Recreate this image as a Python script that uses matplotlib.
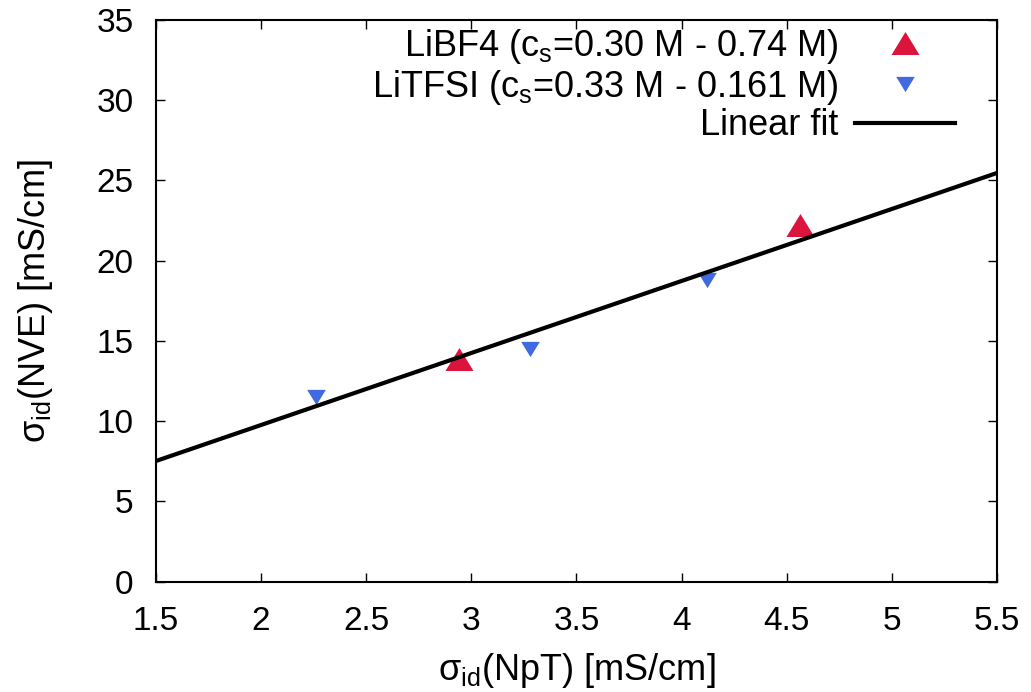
import numpy as np
import matplotlib
matplotlib.use("Agg")
import matplotlib.pyplot as plt

# conductivity data (mS/cm), NpT vs NVE
libf4_npt = [2.94, 4.56]
libf4_nve = [13.9, 22.2]
litfsi_npt = [2.26, 3.28, 4.12]
litfsi_nve = [11.5, 14.5, 18.8]

# linear fit parameters
fit_slope = 4.49
fit_icept = 0.78

xticks = [1.5, 2, 2.5, 3, 3.5, 4, 4.5, 5, 5.5]
yticks = [0, 5, 10, 15, 20, 25, 30, 35]

plt.rcParams["font.family"] = ["Liberation Sans", "DejaVu Sans"]
plt.rcParams["mathtext.fontset"] = "custom"
plt.rcParams["mathtext.rm"] = "Liberation Sans"
plt.rcParams["mathtext.it"] = "Liberation Sans"
plt.rcParams["font.size"] = 26

# gnuplot style flat triangles
up_tri = [(-1, -0.82), (1, -0.82), (0, 0.82), (-1, -0.82)]
dn_tri = [(-1, 0.82), (1, 0.82), (0, -0.82), (-1, 0.82)]

fig = plt.figure(figsize=(10.31, 6.92), dpi=100)
ax = fig.add_axes([0.151, 0.1594, 0.8163, 0.8117])

ax.plot(libf4_npt, libf4_nve, ls="none", marker=up_tri, ms=20.2, mew=0,
        color="#dc143c", zorder=2,
        label=r"LiBF4 (c$_{\rm s}$=0.30 M - 0.74 M)")
ax.plot(litfsi_npt, litfsi_nve, ls="none", marker=dn_tri, ms=13.4, mew=0,
        color="#4169e1", zorder=2,
        label=r"LiTFSI (c$_{\rm s}$=0.33 M - 0.161 M)")
xs = np.array([xticks[0], xticks[-1]])
ax.plot(xs, fit_slope*xs + fit_icept, "k-", lw=3, zorder=3, label="Linear fit")

ax.set_xlim(xticks[0], xticks[-1])
ax.set_ylim(yticks[0], yticks[-1])
ax.set_xticks(xticks)
ax.set_xticklabels([f"{t:g}" for t in xticks])
ax.set_yticks(yticks)
ax.tick_params(direction="in", length=6.7, width=1, top=True, right=True, labelsize=24)
ax.tick_params(axis="x", pad=17.5)
ax.tick_params(axis="y", pad=16)
for s in ax.spines.values():
    s.set_linewidth(1.5)

ax.set_xlabel(r"σ$_{\rm id}$(NpT) [mS/cm]", labelpad=10)
ax.set_ylabel(r"σ$_{\rm id}$(NVE) [mS/cm]", labelpad=30)

ax.legend(loc="upper right", bbox_to_anchor=(0.95, 0.988), frameon=False,
          markerfirst=False, handlelength=2.77, handletextpad=0.47,
          labelspacing=0.05, borderpad=0, borderaxespad=0)

fig.savefig("out.png", dpi=100)
